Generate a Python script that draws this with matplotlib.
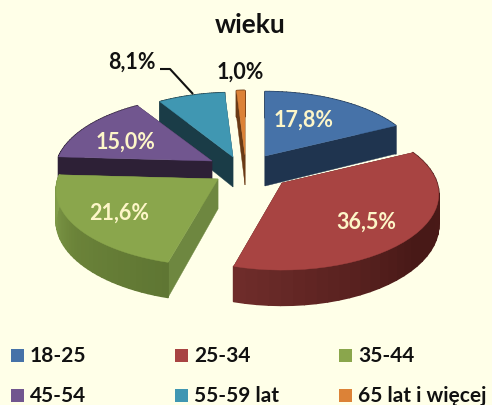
import numpy as np
import matplotlib
matplotlib.use('Agg')
import matplotlib.pyplot as plt
from matplotlib.collections import PolyCollection
from matplotlib.colors import to_rgb
from matplotlib.patches import Polygon, Rectangle

plt.rcParams['font.family'] = ['Lato', 'DejaVu Sans']

title = 'wieku'
categories = ['18-25', '25-34', '35-44', '45-54', '55-59 lat', '65 lat i więcej']
values = [17.8, 36.5, 21.6, 15.0, 8.1, 1.0]
labels = ['17,8%', '36,5%', '21,6%', '15,0%', '8,1%', '1,0%']

# colours
bg = '#ffffe8'
top_colors = ['#4672a8', '#a84442', '#8aa64c', '#71568f', '#4097b2', '#dc8237']
cut_colors = ['#1f344f', '#4a1a18', '#6e8740', '#2d2036', '#1a3c47', '#6a3a15']
# outer wall colour at start / middle / end of the slice
wall_colors = [('#1f344f', '#1f344f', '#1f344f'),
               ('#4a1a18', '#481917', '#6e2c2a'),
               ('#5f7633', '#6b8339', '#84a04c'),
               ('#2d2036', '#2d2036', '#2d2036'),
               ('#1a3c47', '#1a3c47', '#1a3c47'),
               ('#6a3a15', '#6a3a15', '#6a3a15')]
label_colors = ['#fdf6c8', '#fdf6c8', '#fdf6c8', '#fdf6c8', '#111111', '#111111']

# layout, in pixels of the picture
apex_x = [265, 282, 218, 212, 233, 245]
apex_y = [156, 183, 179, 161, 157, 155]
radius_x = [155, 155, 160, 155, 152, 155]
label_x = [304, 366, 119, 126, 132, 240]
label_y = [120, 222, 213, 142, 62, 72]
Ry, persp, thick = 74, 0.15, 30
draw_order = [5, 4, 0, 3, 2, 1]


def project(theta, ax0, ay0, rx):
    # clockwise from 12 o'clock, nearer points get bigger
    u, v = np.sin(theta), np.cos(theta)
    p = 1 / (1 + persp * v)
    return ax0 + rx * u * p, ay0 - Ry * v * p, p


fig = plt.figure(figsize=(4.92, 4.05), dpi=100, facecolor=bg)
ax = fig.add_axes([0, 0, 1, 1])
ax.set_xlim(0, 492)
ax.set_ylim(405, 0)
ax.axis('off')

edges = np.radians(np.concatenate([[0], np.cumsum(values)]) * 3.6)

for i in draw_order:
    ax0, ay0 = apex_x[i], apex_y[i]
    th = np.linspace(edges[i], edges[i + 1], 36)
    x, y, p = project(th, ax0, ay0, radius_x[i])

    # cut faces
    for j in (0, -1):
        face = [(ax0, ay0), (x[j], y[j]), (x[j], y[j] + thick * p[j]), (ax0, ay0 + thick)]
        ax.add_patch(Polygon(face, closed=True, fc=cut_colors[i], ec=cut_colors[i], lw=0.3))

    # outer wall, split in strips for the shading
    quads = []
    cols = []
    t = np.linspace(0, 1, len(th) - 1)
    c0, c1, c2 = [np.array(to_rgb(c)) for c in wall_colors[i]]
    for k in range(len(th) - 1):
        quads.append([(x[k], y[k]), (x[k + 1], y[k + 1]),
                      (x[k + 1], y[k + 1] + thick * p[k + 1]), (x[k], y[k] + thick * p[k])])
        cols.append(c0 + (c1 - c0) * t[k] * 2 if t[k] < 0.5 else c1 + (c2 - c1) * (t[k] - 0.5) * 2)
    ax.add_collection(PolyCollection(quads, facecolors=cols, edgecolors=cols, linewidths=1.2))

    # top
    top = [(ax0, ay0)] + list(zip(x, y))
    ax.add_patch(Polygon(top, closed=True, fc=top_colors[i], ec=top_colors[i], lw=0.3))

# leader line of the 8,1% label
ax.plot([160, 170, 193], [69, 69, 94], color='#111111', lw=1.5, solid_capstyle='butt')

for i in range(len(values)):
    ax.text(label_x[i], label_y[i], labels[i], color=label_colors[i], fontsize=15.5,
            fontweight='bold', ha='center', va='center')

ax.text(250, 25, title, color='#111111', fontsize=19, fontweight='bold', ha='center', va='center')

# legend, two rows of three
leg_x = [11, 175, 339]
leg_y = [349, 389]
for i, name in enumerate(categories):
    lx = leg_x[i % 3]
    ly = leg_y[i // 3]
    ax.add_patch(Rectangle((lx, ly), 13, 13, fc=top_colors[i], ec='none'))
    ax.text(lx + 19, ly + 6.5, name, color='#111111', fontsize=15, fontweight='bold',
            ha='left', va='center')

fig.savefig('out.png', dpi=100, facecolor=bg)
